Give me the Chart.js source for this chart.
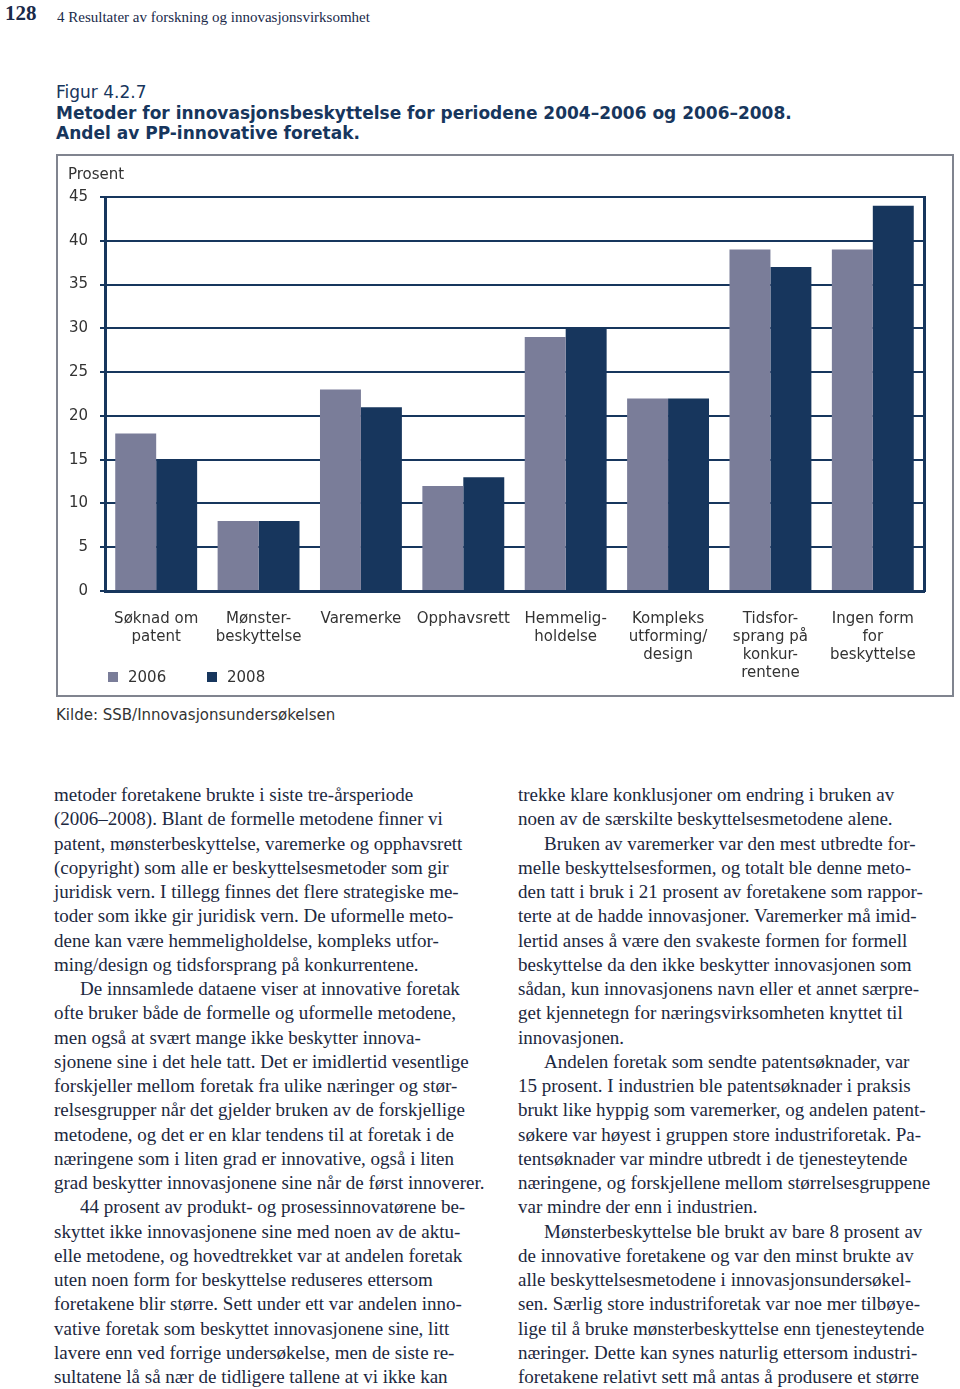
<!DOCTYPE html>
<html lang="no">
<head>
<meta charset="utf-8">
<title>Figur 4.2.7</title>
<script src="https://cdn.jsdelivr.net/npm/chart.js@4.4.1/dist/chart.umd.min.js"></script>
<style>
  body { margin: 0; width: 960px; height: 1389px; position: relative; background: #fff; overflow: hidden; }
  .pagenum { position: absolute; left: 5px; top: 1px; font: bold 21px "Liberation Serif", serif; color: #1a2a4a; }
  .running { position: absolute; left: 57px; top: 9px; font: 15px "Liberation Serif", serif; color: #1a2a4a; }
  .fig { position: absolute; left: 56px; top: 82px; font: 17px "DejaVu Sans", sans-serif; color: #17365d; line-height: 20.5px; }
  .frame { position: absolute; left: 56px; top: 154px; width: 894px; height: 539px; border: 2px solid #80848f; }
  .frame canvas { display: block; }
  .source { position: absolute; left: 56px; top: 706px; font: 15px "DejaVu Sans", sans-serif; color: #333; }
  .col { position: absolute; top: 783px; font: 19px "Liberation Serif", serif; line-height: 24.25px; color: #1c2840; white-space: nowrap; }
  .col .ind { padding-left: 26px; }
</style>
</head>
<body>
<div class="pagenum">128</div>
<div class="running">4 Resultater av forskning og innovasjonsvirksomhet</div>

<div class="fig">
  Figur 4.2.7<br>
  <b>Metoder for innovasjonsbeskyttelse for periodene 2004–2006 og 2006–2008.<br>
  Andel av PP-innovative foretak.</b>
</div>

<div class="frame"><canvas id="methodsChart" width="894" height="539"></canvas></div>
<div class="source">Kilde: SSB/Innovasjonsundersøkelsen</div>

<div class="col" style="left:54px">
  <div>metoder foretakene brukte i siste tre-årsperiode</div>
  <div>(2006–2008). Blant de formelle metodene finner vi</div>
  <div>patent, mønsterbeskyttelse, varemerke og opphavsrett</div>
  <div>(copyright) som alle er beskyttelsesmetoder som gir</div>
  <div>juridisk vern. I tillegg finnes det flere strategiske me-</div>
  <div>toder som ikke gir juridisk vern. De uformelle meto-</div>
  <div>dene kan være hemmeligholdelse, kompleks utfor-</div>
  <div>ming/design og tidsforsprang på konkurrentene.</div>
  <div class="ind">De innsamlede dataene viser at innovative foretak</div>
  <div>ofte bruker både de formelle og uformelle metodene,</div>
  <div>men også at svært mange ikke beskytter innova-</div>
  <div>sjonene sine i det hele tatt. Det er imidlertid vesentlige</div>
  <div>forskjeller mellom foretak fra ulike næringer og stør-</div>
  <div>relsesgrupper når det gjelder bruken av de forskjellige</div>
  <div>metodene, og det er en klar tendens til at foretak i de</div>
  <div>næringene som i liten grad er innovative, også i liten</div>
  <div>grad beskytter innovasjonene sine når de først innoverer.</div>
  <div class="ind">44 prosent av produkt- og prosessinnovatørene be-</div>
  <div>skyttet ikke innovasjonene sine med noen av de aktu-</div>
  <div>elle metodene, og hovedtrekket var at andelen foretak</div>
  <div>uten noen form for beskyttelse reduseres ettersom</div>
  <div>foretakene blir større. Sett under ett var andelen inno-</div>
  <div>vative foretak som beskyttet innovasjonene sine, litt</div>
  <div>lavere enn ved forrige undersøkelse, men de siste re-</div>
  <div>sultatene lå så nær de tidligere tallene at vi ikke kan</div>
</div>

<div class="col" style="left:518px">
  <div>trekke klare konklusjoner om endring i bruken av</div>
  <div>noen av de særskilte beskyttelsesmetodene alene.</div>
  <div class="ind">Bruken av varemerker var den mest utbredte for-</div>
  <div>melle beskyttelsesformen, og totalt ble denne meto-</div>
  <div>den tatt i bruk i 21 prosent av foretakene som rappor-</div>
  <div>terte at de hadde innovasjoner. Varemerker må imid-</div>
  <div>lertid anses å være den svakeste formen for formell</div>
  <div>beskyttelse da den ikke beskytter innovasjonen som</div>
  <div>sådan, kun innovasjonens navn eller et annet særpre-</div>
  <div>get kjennetegn for næringsvirksomheten knyttet til</div>
  <div>innovasjonen.</div>
  <div class="ind">Andelen foretak som sendte patentsøknader, var</div>
  <div>15 prosent. I industrien ble patentsøknader i praksis</div>
  <div>brukt like hyppig som varemerker, og andelen patent-</div>
  <div>søkere var høyest i gruppen store industriforetak. Pa-</div>
  <div>tentsøknader var mindre utbredt i de tjenesteytende</div>
  <div>næringene, og forskjellene mellom størrelsesgruppene</div>
  <div>var mindre der enn i industrien.</div>
  <div class="ind">Mønsterbeskyttelse ble brukt av bare 8 prosent av</div>
  <div>de innovative foretakene og var den minst brukte av</div>
  <div>alle beskyttelsesmetodene i innovasjonsundersøkel-</div>
  <div>sen. Særlig store industriforetak var noe mer tilbøye-</div>
  <div>lige til å bruke mønsterbeskyttelse enn tjenesteytende</div>
  <div>næringer. Dette kan synes naturlig ettersom industri-</div>
  <div>foretakene relativt sett må antas å produsere et større</div>
</div>

<script>
// Protection methods (multi-line axis labels)
const categories = [
  ["Søknad om", "patent"],
  ["Mønster-", "beskyttelse"],
  ["Varemerke"],
  ["Opphavsrett"],
  ["Hemmelig-", "holdelse"],
  ["Kompleks", "utforming/", "design"],
  ["Tidsfor-", "sprang på", "konkur-", "rentene"],
  ["Ingen form", "for", "beskyttelse"],
];

// Share of PP-innovative enterprises, per cent
const values2006 = [18, 8, 23, 12, 29, 22, 39, 39];
const values2008 = [15, 8, 21, 13, 30, 22, 37, 44];

const seriesLabels = ["2006", "2008"];
const unitLabel = "Prosent";
const yMin = 0;
const yMax = 45;
const yStep = 5;

const navy = "#17365d";
const slate = "#7a7d99";
const textColor = "#333333";
const chartFont = { family: "'DejaVu Sans', Verdana, sans-serif", size: 15, lineHeight: 1.2 };

// Unit label above the y axis and the legend squares under the axis labels
const extrasPlugin = {
  id: "extras",
  afterDraw(chart) {
    const c = chart.ctx;
    c.save();
    c.font = "15px 'DejaVu Sans', sans-serif";
    c.textBaseline = "middle";
    c.fillStyle = textColor;
    c.fillText(unitLabel, 10, 19);

    chart.data.datasets.forEach((ds, i) => {
      const x = 50 + i * 99;
      c.fillStyle = ds.backgroundColor;
      c.fillRect(x, 516, 10, 10);
      c.fillStyle = textColor;
      c.fillText(ds.label, x + 20, 522);
    });
    c.restore();
  },
};

const ctx = document.getElementById("methodsChart").getContext("2d");

const methodsChart = new Chart(ctx, {
  type: "bar",
  data: {
    labels: categories,
    datasets: [
      {
        label: seriesLabels[0],
        data: values2006,
        backgroundColor: slate,
        categoryPercentage: 0.8,
        barPercentage: 1.0,
      },
      {
        label: seriesLabels[1],
        data: values2008,
        backgroundColor: navy,
        categoryPercentage: 0.8,
        barPercentage: 1.0,
      },
    ],
  },
  options: {
    responsive: false,
    animation: false,
    layout: {
      padding: { left: 0, right: 28, top: 41, bottom: 0 },
    },
    plugins: {
      legend: { display: false },
      tooltip: { enabled: false },
    },
    scales: {
      x: {
        grid: { display: false },
        border: { display: true, color: navy, width: 3 },
        ticks: {
          color: textColor,
          font: chartFont,
          padding: 11,
          maxRotation: 0,
          autoSkip: false,
        },
        afterFit: (scale) => { scale.height = 104; },
      },
      y: {
        min: yMin,
        max: yMax,
        ticks: {
          stepSize: yStep,
          color: textColor,
          font: chartFont,
          padding: 12,
        },
        grid: { color: navy, lineWidth: 2, tickLength: 5 },
        border: { color: navy, width: 3 },
        afterFit: (scale) => { scale.width = 47; },
      },
      yRight: {
        position: "right",
        min: yMin,
        max: yMax,
        ticks: { display: false },
        grid: { display: false },
        border: { color: navy, width: 3 },
        afterFit: (scale) => { scale.width = 0; },
      },
    },
  },
  plugins: [extrasPlugin],
});
</script>
</body>
</html>
